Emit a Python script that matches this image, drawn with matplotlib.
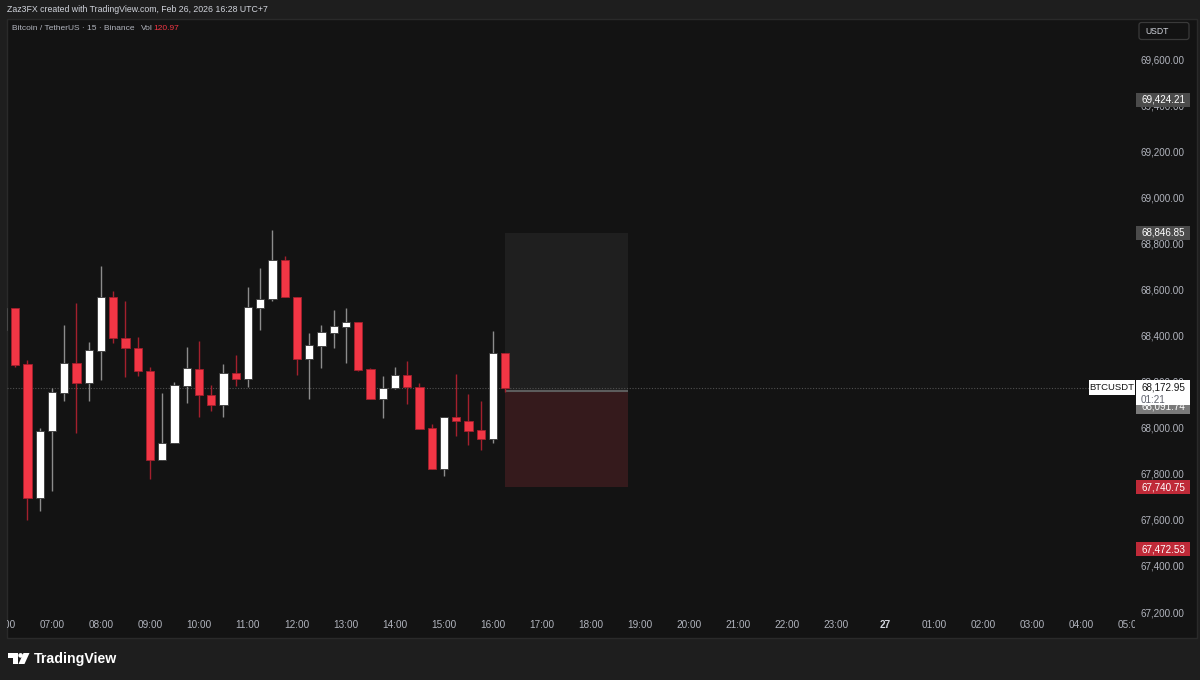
import numpy as np
import matplotlib.pyplot as plt
from matplotlib.patches import Rectangle, FancyBboxPatch, Polygon, Circle

plt.rcParams['font.family'] = ['Liberation Sans', 'DejaVu Sans']

# data: 15m BTCUSDT candles, bar 0 = 07:00 (Feb 26)
first_bar = -4
hour_labels = ["06:00", "07:00", "08:00", "09:00", "10:00", "11:00", "12:00", "13:00",
               "14:00", "15:00", "16:00", "17:00", "18:00", "19:00", "20:00", "21:00",
               "22:00", "23:00", "27", "01:00", "02:00", "03:00", "04:00", "05:00"]

opens = [68423.9, 68518.0, 68275.0, 67693.5, 67984.3, 68150.5, 68279.4, 68192.6, 68332.7,
         68565.8, 68390.4, 68347.1, 68245.9, 67859.7, 67932.2, 68182.2, 68256.0, 68143.2,
         68099.8, 68237.4, 68211.4, 68520.6, 68557.1, 68727.7, 68568.4, 68296.7, 68354.4,
         68412.1, 68438.2, 68458.5, 68253.3, 68123.2, 68170.9, 68228.6, 68176.5, 67997.3,
         67820.6, 68046.3, 68028.9, 67989.9, 67949.5, 68322.8]
highs = [68528.0, 68520.6, 68293.7, 67998.6, 68172.1, 68444.3, 68539.7, 68371.8, 68701.6,
         68593.1, 68551.1, 68394.8, 68264.6, 68151.8, 68196.9, 68351.4, 68377.4, 68184.2,
         68276.4, 68315.4, 68611.9, 68691.8, 68857.9, 68745.0, 68568.4, 68412.1, 68445.6,
         68509.4, 68519.3, 68458.5, 68258.9, 68225.6, 68263.3, 68289.4, 68192.6, 68015.9,
         68046.3, 68234.2, 68144.8, 68114.4, 68418.3, 68322.8]
lows = [68402.2, 68264.6, 67599.3, 67640.0, 67726.4, 68117.0, 67975.5, 68117.0, 68206.9,
        68368.7, 68221.2, 68224.2, 67777.2, 67859.7, 67932.2, 68105.7, 68045.0, 68071.3,
        68045.0, 68180.8, 68177.8, 68423.9, 68551.1, 68565.8, 68228.6, 68124.4, 68260.2,
        68347.1, 68281.9, 68247.2, 68123.2, 68040.7, 68166.5, 68102.7, 67994.2, 67820.6,
        67790.2, 67965.2, 67924.8, 67903.1, 67932.2, 68156.1]
closes = [68519.3, 68272.0, 67693.5, 67986.9, 68153.5, 68279.4, 68192.6, 68335.8, 68565.8,
          68387.8, 68345.8, 68244.6, 67859.7, 67934.8, 68183.9, 68257.7, 68143.2, 68099.8,
          68237.4, 68211.4, 68522.5, 68559.8, 68727.7, 68565.8, 68296.7, 68357.9, 68413.9,
          68439.9, 68458.5, 68250.3, 68123.2, 68173.5, 68228.6, 68176.5, 67994.2, 67820.6,
          68046.3, 68027.6, 67986.9, 67949.5, 68322.8, 68172.95]

last_price = 68172.95
countdown = "01:21"
vol_value = "120.97"

# short position tool
pos_start_bar = 37
pos_bars = 10
pos_entry = 68158.0
pos_target = 68846.85
pos_stop = 67740.75

# extra price-scale tags
tag_prices = [69424.21, 68846.85, 68091.74, 67740.75, 67472.53]
tag_colors = ['#4b4b4b', '#4b4b4b', '#7a7a7a', '#bf2a38', '#bf2a38']

W, H = 1200, 680
BG = '#131313'
OUTER = '#1e1e1e'
TXT = '#b2b5be'
RED = '#f23645'


def rect(x0, y0, x1, y1):
    return [x0 / W, 1 - y1 / H, (x1 - x0) / W, (y1 - y0) / H]


fig = plt.figure(figsize=(W / 100, H / 100), dpi=100, facecolor=OUTER)

# background frame + header
bg = fig.add_axes([0, 0, 1, 1], zorder=0)
bg.set_xlim(0, W)
bg.set_ylim(H, 0)
bg.axis('off')
bg.add_patch(Rectangle((7, 19), 1190, 619, fc=BG, ec='#2a2a2a', lw=1))
bg.text(7, 10, "Zaz3FX created with TradingView.com, Feb 26, 2026 16:28 UTC+7",
        fontsize=6.3, color='#d1d4dc', va='center', ha='left')

# main price pane
ax = fig.add_axes(rect(7, 20, 1135, 615), zorder=1)
ax.patch.set_alpha(0)
ax.set_xlim(-3.673, 88.408)
ax.set_ylim(67187.0, 69769.3)
for s in ax.spines.values():
    s.set_visible(False)
ax.tick_params(axis='x', bottom=False, labelbottom=False)
ax.yaxis.tick_right()
ax.set_yticks(np.arange(67200, 69601, 200))
ax.yaxis.set_major_formatter(lambda v, pos: f'{v:,.2f}')
ax.tick_params(axis='y', length=0, pad=4.3, labelsize=7.1, labelcolor=TXT)

x = first_bar + np.arange(len(opens))
o = np.array(opens)
h = np.array(highs)
l = np.array(lows)
c = np.array(closes)
up = c >= o
body_col = np.where(up, '#ffffff', RED)
edge_col = np.where(up, '#3a3a3a', '#a3202d')
wick_col = np.where(up, '#8c8c8c', '#a3202d')

# position tool zones
ax.add_patch(Rectangle((pos_start_bar, pos_entry), pos_bars, pos_target - pos_entry,
                       fc='#1f1f1f', ec='none', zorder=1))
ax.add_patch(Rectangle((pos_start_bar, pos_stop), pos_bars, pos_entry - pos_stop,
                       fc='#351a1c', ec='none', zorder=1))
ax.hlines(pos_entry, pos_start_bar, pos_start_bar + pos_bars, colors='#5c5c5c', lw=1.5, zorder=1.5)

ax.axhline(last_price, color='#505050', lw=0.8, ls=(0, (1, 1.5)), zorder=1.2)

ax.vlines(x, l, h, colors=wick_col, lw=1, zorder=2)
ax.bar(x, c - o, bottom=o, width=0.68, color=body_col, edgecolor=edge_col, lw=0.6, zorder=3)

# time scale
tax = fig.add_axes(rect(7, 615, 1135, 638), zorder=1)
tax.set_xlim(ax.get_xlim())
tax.set_ylim(0, 1)
tax.axis('off')
for i, lab in enumerate(hour_labels):
    day = lab == "27"
    tax.text(first_bar + 4 * i, 0.565, lab, ha='center', va='center', fontsize=7.2,
             color='#d1d4dc' if day else TXT, fontweight='bold' if day else 'normal',
             clip_on=True)

# overlay in pixel coords
ov = fig.add_axes([0, 0, 1, 1], zorder=3)
ov.set_xlim(0, W)
ov.set_ylim(H, 0)
ov.axis('off')
ov.patch.set_alpha(0)


def ypix(p):
    return H - ax.transData.transform((0, p))[1]


# legend line
r = fig.canvas.get_renderer()
t1 = ov.text(12, 28.5, "Bitcoin / TetherUS \u00b7 15 \u00b7 Binance", fontsize=6.0,
             color=TXT, va='center', ha='left')
x1 = t1.get_window_extent(r).x1 + 6
t2 = ov.text(x1, 28.5, "Vol", fontsize=6.0, color=TXT, va='center', ha='left')
x2 = t2.get_window_extent(r).x1 + 0.5
ov.text(x2, 28.5, vol_value, fontsize=6.0, color=RED, va='center', ha='left')

# USDT box
ov.add_patch(FancyBboxPatch((1139, 22.5), 50, 17, boxstyle='round,pad=0,rounding_size=2.5',
                            fc=BG, ec='#3a3a3a', lw=0.9))
ov.text(1145, 31, "USDT", fontsize=6.2, color='#d1d4dc', va='center', ha='left')

# price tags
for p, col in zip(tag_prices, tag_colors):
    yp = ypix(p)
    ov.add_patch(Rectangle((1136, yp - 7), 54, 14, fc=col, ec='none'))
    ov.text(1141, yp, f'{p:,.2f}', fontsize=7.1, color='#ffffff', va='center', ha='left')

yp = ypix(last_price)
ov.add_patch(Rectangle((1136, yp - 7.5), 54, 25, fc='#ffffff', ec='none'))
ov.text(1141, yp, f'{last_price:,.2f}', fontsize=7.1, color='#131313', va='center', ha='left')
ov.text(1141, yp + 12, countdown, fontsize=7.1, color='#5d606b', va='center', ha='left')
ov.add_patch(Rectangle((1089, yp - 7.5), 46, 15, fc='#ffffff', ec='none'))
ov.text(1112, yp, "BTCUSDT", fontsize=6.8, color='#131313', va='center', ha='center')

# TradingView logo
ov.add_patch(Polygon([(8, 653), (17.5, 653), (17.5, 664), (13.2, 664), (13.2, 657.5), (8, 657.5)],
                     closed=True, fc='#ffffff', ec='none'))
ov.add_patch(Circle((20.6, 655.4), 2.3, fc='#ffffff', ec='none'))
ov.add_patch(Polygon([(23.5, 653), (29.5, 653), (24.5, 664), (18.5, 664)],
                     closed=True, fc='#ffffff', ec='none'))
ov.text(33.5, 659, "TradingView", fontsize=10.2, fontweight='bold', color='#ffffff',
        va='center', ha='left')

fig.savefig('out.png', dpi=100, facecolor=OUTER)
